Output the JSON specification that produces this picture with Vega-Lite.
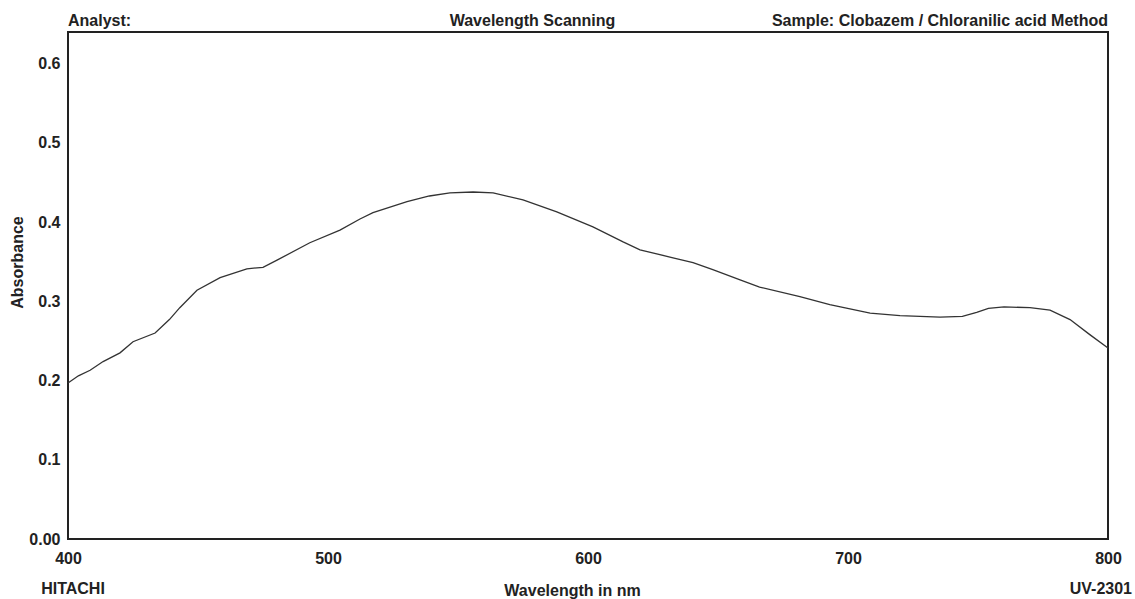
{
  "$schema": "https://vega.github.io/schema/vega-lite/v6.json",
  "width": 1040,
  "height": 507,
  "autosize": {"type": "none"},
  "padding": {"left": 68, "top": 32, "right": 27, "bottom": 60},
  "background": "white",
  "config": {
    "view": {"stroke": "#222", "strokeWidth": 2},
    "font": "Liberation Sans",
    "axis": {
      "grid": false, "ticks": false, "domain": false,
      "labelFont": "Liberation Sans", "labelFontSize": 16, "labelFontWeight": "bold", "labelColor": "#222",
      "titleFont": "Liberation Sans", "titleFontSize": 16, "titleFontWeight": "bold", "titleColor": "#222"
    },
    "text": {"font": "Liberation Sans", "fontSize": 16, "fontWeight": "bold", "fill": "#222"}
  },
  "layer": [
    {
      "data": {"values": [
        {"wavelength": 400.0, "absorbance": 0.197},
        {"wavelength": 404.0, "absorbance": 0.206},
        {"wavelength": 408.5, "absorbance": 0.213},
        {"wavelength": 413.5, "absorbance": 0.224},
        {"wavelength": 420.0, "absorbance": 0.235},
        {"wavelength": 425.0, "absorbance": 0.249},
        {"wavelength": 433.5, "absorbance": 0.260},
        {"wavelength": 439.0, "absorbance": 0.277},
        {"wavelength": 443.0, "absorbance": 0.292},
        {"wavelength": 449.6, "absorbance": 0.314},
        {"wavelength": 458.5, "absorbance": 0.330},
        {"wavelength": 468.8, "absorbance": 0.341},
        {"wavelength": 475.0, "absorbance": 0.343},
        {"wavelength": 480.4, "absorbance": 0.352},
        {"wavelength": 493.0, "absorbance": 0.374},
        {"wavelength": 504.6, "absorbance": 0.390},
        {"wavelength": 512.3, "absorbance": 0.404},
        {"wavelength": 517.3, "absorbance": 0.412},
        {"wavelength": 530.4, "absorbance": 0.426},
        {"wavelength": 539.0, "absorbance": 0.433},
        {"wavelength": 546.9, "absorbance": 0.437},
        {"wavelength": 555.8, "absorbance": 0.438},
        {"wavelength": 563.5, "absorbance": 0.437},
        {"wavelength": 575.0, "absorbance": 0.428},
        {"wavelength": 588.0, "absorbance": 0.413},
        {"wavelength": 601.9, "absorbance": 0.394},
        {"wavelength": 613.5, "absorbance": 0.375},
        {"wavelength": 620.0, "absorbance": 0.365},
        {"wavelength": 632.7, "absorbance": 0.355},
        {"wavelength": 640.4, "absorbance": 0.349},
        {"wavelength": 648.0, "absorbance": 0.340},
        {"wavelength": 658.5, "absorbance": 0.327},
        {"wavelength": 666.0, "absorbance": 0.318},
        {"wavelength": 681.5, "absorbance": 0.306},
        {"wavelength": 693.0, "absorbance": 0.296},
        {"wavelength": 708.5, "absorbance": 0.285},
        {"wavelength": 720.0, "absorbance": 0.282},
        {"wavelength": 735.4, "absorbance": 0.280},
        {"wavelength": 744.0, "absorbance": 0.281},
        {"wavelength": 749.5, "absorbance": 0.286},
        {"wavelength": 754.0, "absorbance": 0.291},
        {"wavelength": 760.0, "absorbance": 0.293},
        {"wavelength": 770.0, "absorbance": 0.292},
        {"wavelength": 777.7, "absorbance": 0.289},
        {"wavelength": 785.4, "absorbance": 0.277},
        {"wavelength": 793.0, "absorbance": 0.258},
        {"wavelength": 800.0, "absorbance": 0.241}
      ]},
      "mark": {"type": "line", "color": "#333", "strokeWidth": 1.3},
      "encoding": {
        "x": {
          "field": "wavelength", "type": "quantitative", "title": "Wavelength in nm",
          "scale": {"domain": [400, 800], "nice": false, "zero": false},
          "axis": {
            "values": [400, 500, 600, 700, 800], "labelPadding": 11, "labelFlush": false,
            "titleX": 504, "titleY": 56,
            "titleBaseline": "alphabetic", "titleAlign": "center", "titleAnchor": null
          }
        },
        "y": {
          "field": "absorbance", "type": "quantitative", "title": "Absorbance",
          "scale": {"domain": [0, 0.64], "nice": false},
          "axis": {
            "values": [0, 0.1, 0.2, 0.3, 0.4, 0.5, 0.6], "labelPadding": 8,
            "labelExpr": "datum.value == 0 ? '0.00' : format(datum.value, '.1f')",
            "titleAngle": 270, "titleX": -51, "titleY": 230,
            "titleAlign": "center", "titleBaseline": "middle", "titleAnchor": null
          }
        }
      }
    },
    {
      "data": {"values": [{}]},
      "mark": {"type": "text", "align": "left", "baseline": "alphabetic", "dy": -6},
      "encoding": {
        "x": {"datum": 400, "type": "quantitative", "title": "Wavelength in nm"},
        "y": {"datum": 0.64, "type": "quantitative", "title": "Absorbance"},
        "text": {"value": "Analyst:"}
      }
    },
    {
      "data": {"values": [{}]},
      "mark": {"type": "text", "align": "center", "baseline": "alphabetic", "dy": -6, "dx": -55.5},
      "encoding": {
        "x": {"datum": 600, "type": "quantitative", "title": "Wavelength in nm"},
        "y": {"datum": 0.64, "type": "quantitative", "title": "Absorbance"},
        "text": {"value": "Wavelength Scanning"}
      }
    },
    {
      "data": {"values": [{}]},
      "mark": {"type": "text", "align": "right", "baseline": "alphabetic", "dy": -6},
      "encoding": {
        "x": {"datum": 800, "type": "quantitative", "title": "Wavelength in nm"},
        "y": {"datum": 0.64, "type": "quantitative", "title": "Absorbance"},
        "text": {"value": "Sample: Clobazem / Chloranilic acid Method"}
      }
    },
    {
      "data": {"values": [{}]},
      "mark": {"type": "text", "align": "center", "baseline": "alphabetic", "dy": 55, "dx": 5},
      "encoding": {
        "x": {"datum": 400, "type": "quantitative", "title": "Wavelength in nm"},
        "y": {"datum": 0, "type": "quantitative", "title": "Absorbance"},
        "text": {"value": "HITACHI"}
      }
    },
    {
      "data": {"values": [{}]},
      "mark": {"type": "text", "align": "right", "baseline": "alphabetic", "dy": 55, "dx": 24},
      "encoding": {
        "x": {"datum": 800, "type": "quantitative", "title": "Wavelength in nm"},
        "y": {"datum": 0, "type": "quantitative", "title": "Absorbance"},
        "text": {"value": "UV-2301"}
      }
    }
  ]
}
